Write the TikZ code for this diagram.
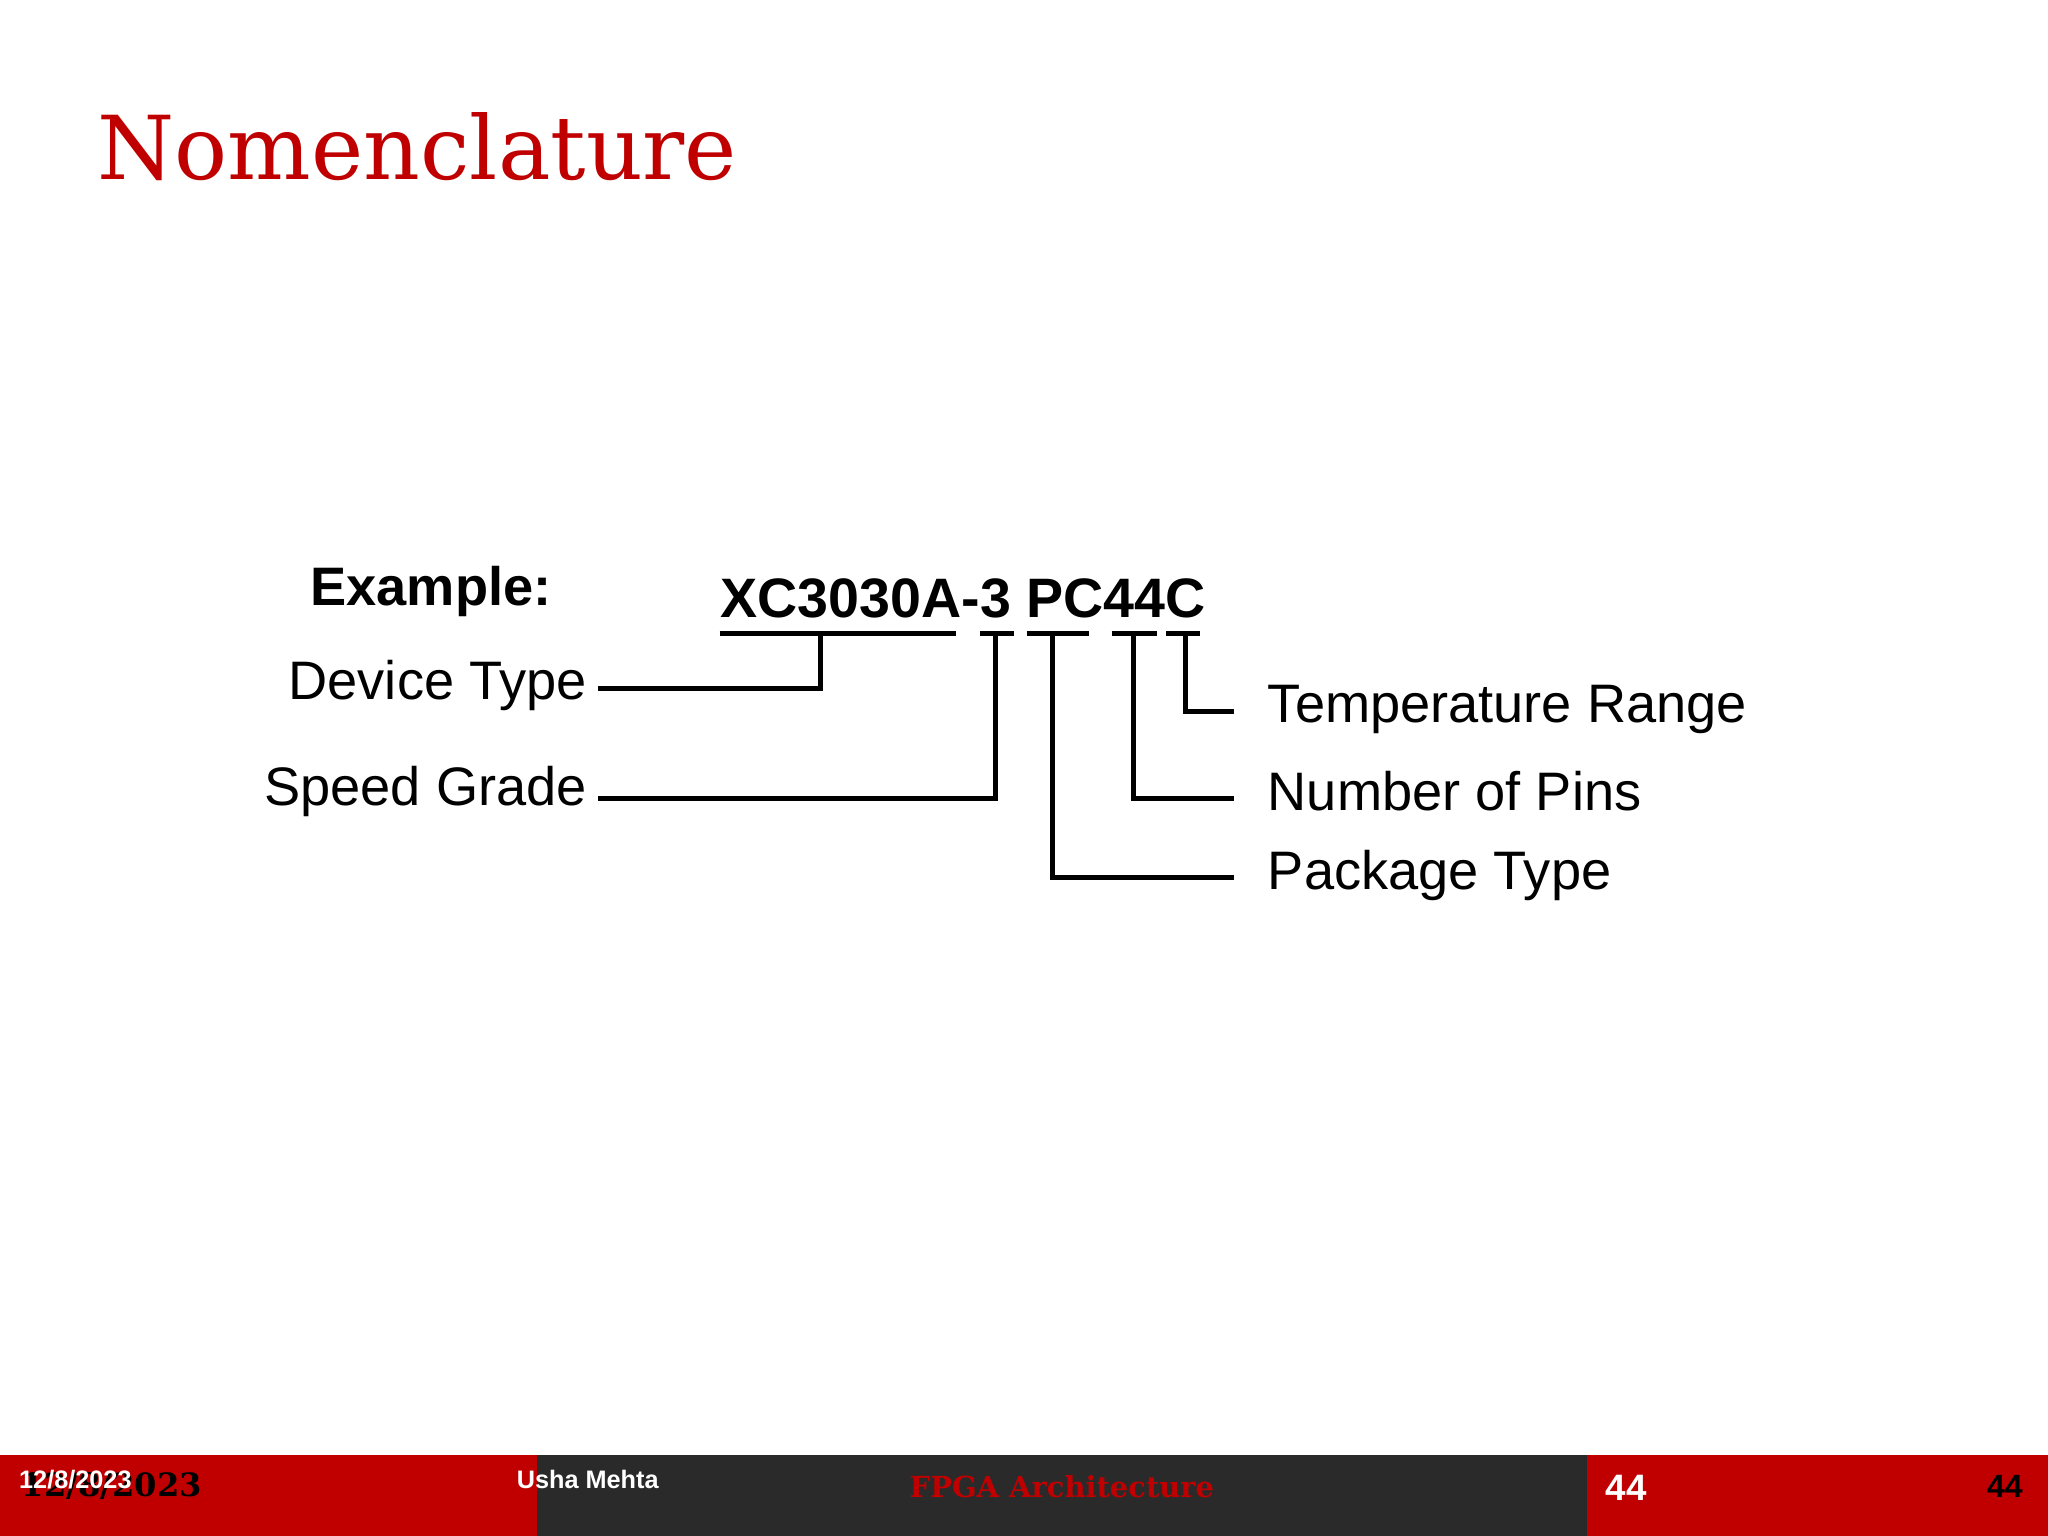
\documentclass[tikz,border=0pt]{standalone}
\usepackage{fontspec}
\setmainfont{Liberation Serif}
\setsansfont{Liberation Sans}
\newfontfamily\titlefont{DejaVu Serif}
\definecolor{sred}{RGB}{192,0,0}
\definecolor{sgray}{RGB}{42,42,42}
\begin{document}
\begin{tikzpicture}[x=0.01cm,y=-0.01cm,
  lab/.style={font=\sffamily\fontsize{11.8}{14}\selectfont,inner sep=0pt},
  ln/.style={line width=1.1pt}]
\useasboundingbox (0,0) rectangle (1568,1176);
\fill[white] (0,0) rectangle (1568,1176);
\node[anchor=west,inner sep=0pt,text=sred,font=\titlefont\fontsize{19.2}{24}\selectfont] (title) at (74,112) {Nomenclature};
% footer
\fill[sred] (0,1114) rectangle (411,1176);
\fill[sgray] (411,1114) rectangle (1215,1176);
\fill[sred] (1215,1114) rectangle (1568,1176);
\node[anchor=west,inner sep=0pt,font=\titlefont\bfseries\fontsize{7}{9}\selectfont] (d2) at (16,1138) {12/8/2023};
\node[anchor=west,inner sep=0pt,text=white,font=\sffamily\bfseries\fontsize{5.5}{6}\selectfont] (d1) at (14,1133) {12/8/2023};
\node[anchor=west,inner sep=0pt,text=white,font=\sffamily\bfseries\fontsize{5.5}{6}\selectfont] (au) at (395,1133) {Usha Mehta};
\node[inner sep=0pt,text=sred,font=\titlefont\bfseries\fontsize{6.3}{8}\selectfont] (ft) at (813,1138) {FPGA Architecture};
\node[inner sep=0pt,text=white,font=\sffamily\bfseries\fontsize{8}{9}\selectfont] (n1) at (1245,1139) {44};
\node[inner sep=0pt,font=\sffamily\bfseries\fontsize{7}{8}\selectfont] (n2) at (1535,1138) {44};
% diagram
\node[lab,font=\sffamily\bfseries\fontsize{11.8}{14}\selectfont] (ex) at (330,453) {Example:};
\node[lab,anchor=west,font=\sffamily\bfseries\fontsize{12.1}{14}\selectfont] (pn) at (551,458) {XC3030A-3 PC44C};
\node[lab,anchor=east] (dt) at (450,525) {Device Type};
\node[lab,anchor=east] (sg) at (450,606) {Speed Grade};
\node[lab,anchor=west] (tr) at (970,543) {Temperature Range};
\node[lab,anchor=west] (np) at (970,606) {Number of Pins};
\node[lab,anchor=west] (pt) at (970,670) {Package Type};
\coordinate (u1) at (628,485); \coordinate (u2) at (762,485);
\coordinate (u3) at (806,485); \coordinate (u4) at (868,485); \coordinate (u5) at (908,485);
\coordinate (e1) at (458,527); \coordinate (e2) at (458,611);
\coordinate (e3) at (945,672); \coordinate (e4) at (945,611); \coordinate (e5) at (945,545);
\draw[ln] (551,485) -- (732,485);
\draw[ln] (750,485) -- (776,485);
\draw[ln] (786,485) -- (834,485);
\draw[ln] (851,485) -- (886,485);
\draw[ln] (893,485) -- (919,485);
\draw[ln] (u1) |- (e1);
\draw[ln] (u2) |- (e2);
\draw[ln] (u3) |- (e3);
\draw[ln] (u4) |- (e4);
\draw[ln] (u5) |- (e5);
\end{tikzpicture}
\end{document}
